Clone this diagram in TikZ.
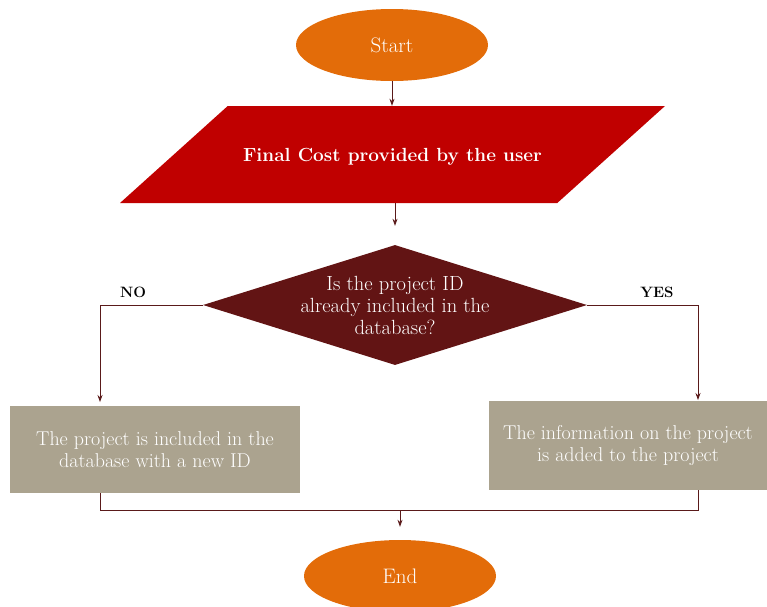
\documentclass[tikz,border=0pt]{standalone}
\usepackage{tikz}
\usetikzlibrary{shapes.geometric,arrows.meta}
\definecolor{termorange}{HTML}{E36C09}
\definecolor{inputred}{HTML}{C00000}
\definecolor{decisionred}{HTML}{621414}
\definecolor{boxtan}{HTML}{ABA38F}
\definecolor{linebrown}{HTML}{5A1A1A}

\begin{document}
\begin{tikzpicture}[x=1pt,y=-1pt,
  terminal/.style={ellipse,fill=termorange,text=white,minimum width=192pt,minimum height=72pt,inner sep=0pt,font=\fontsize{21}{24}\selectfont},
  inputbox/.style={trapezium,trapezium left angle=42,trapezium right angle=138,trapezium stretches body,fill=inputred,text=white,minimum width=545pt,text height=16pt,text depth=2pt,inner xsep=0pt,inner ysep=39.5pt,font=\bfseries\fontsize{19}{22}\selectfont},
  decision/.style={diamond,fill=decisionred,minimum width=384pt,minimum height=120pt,aspect=3.2,inner sep=0pt},
  qtext/.style={align=center,text=white,font=\fontsize{20.5}{22}\selectfont},
  process/.style={rectangle,fill=boxtan,text=white,align=center,minimum width=290pt,minimum height=87pt,font=\fontsize{20}{22.5}\selectfont},
  branchlbl/.style={font=\bfseries\fontsize{15}{17}\selectfont},
  link/.style={draw=linebrown,line width=0.8pt},
  arr/.style={link,-{Stealth[length=7pt,width=5pt]}}]
  \useasboundingbox (0,0) rectangle (767,606);

  \node[terminal] (start) at (392,45) {Start};
  \node[inputbox] (input) at (392.5,154.5) {Final Cost provided by the user};
  \node[decision] (q) at (395,305) {};
  \node[qtext] (qtext) at (q) {Is the project ID\\already included in the\\database?};
  \node[process] (newid) at (155,449.5) {The project is included in the\\database with a new ID};
  \node[process,minimum width=278pt,minimum height=89pt] (info) at (628,445.5) {The information on the project\\is added to the project};
  \node[terminal] (end) at (400,576) {End};
  \node[branchlbl] (nolbl) at (133,292) {NO};
  \node[branchlbl] (yeslbl) at (657,292) {YES};

  \coordinate (nodrop) at (100,402);
  \coordinate (yesdrop) at (698,400);
  \coordinate (merge) at (400,510);

  \draw[arr] (start) -- (start |- input.north);
  \draw[arr,shorten >=19pt] (q.north |- input.south) -- (q.north);
  \draw[arr] (q.west) -| (nodrop);
  \draw[arr] (q.east) -| (yesdrop);
  \draw[link] (nodrop |- newid.south) |- (merge) -| (yesdrop |- info.south);
  \draw[arr,shorten >=13pt] (merge) -- (end.north);
\end{tikzpicture}
\end{document}
